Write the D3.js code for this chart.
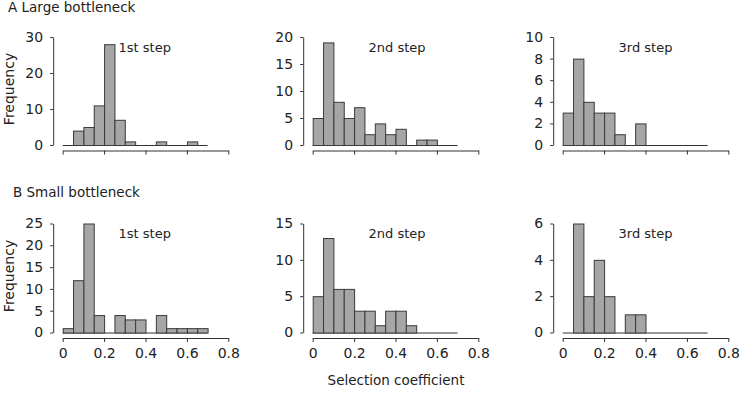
<!DOCTYPE html>
<html>
<head>
<meta charset="utf-8">
<script src="https://cdn.jsdelivr.net/npm/d3@7.9.0/dist/d3.min.js"></script>
<style>
  body { margin: 0; background: #fff; }
  svg text { font-family: "DejaVu Sans", Verdana, sans-serif; fill: #222; }
</style>
</head>
<body>
<svg id="chart" width="742" height="393"></svg>
<script>
// bin start values (bin width 0.05)
const binStarts = [0, 0.05, 0.1, 0.15, 0.2, 0.25, 0.3, 0.35, 0.4, 0.45, 0.5, 0.55, 0.6, 0.65];
const binWidth = 0.05;

const rowTitles = ['A Large bottleneck', 'B Small bottleneck'];
const stepLabels = ['1st step', '2nd step', '3rd step'];
const xTicks = [0, 0.2, 0.4, 0.6, 0.8];

// frequencies per bin
const largeStep1 = [0, 4, 5, 11, 28, 7, 1, 0, 0, 1, 0, 0, 1, 0];
const largeStep2 = [5, 19, 8, 5, 7, 2, 4, 2, 3, 0, 1, 1, 0, 0];
const largeStep3 = [3, 8, 4, 3, 3, 1, 0, 2, 0, 0, 0, 0, 0, 0];
const smallStep1 = [1, 12, 25, 4, 0, 4, 3, 3, 0, 4, 1, 1, 1, 1];
const smallStep2 = [5, 13, 6, 6, 3, 3, 1, 3, 3, 1, 0, 0, 0, 0];
const smallStep3 = [0, 6, 2, 4, 2, 0, 1, 1, 0, 0, 0, 0, 0, 0];

const largeYTicks = [[0, 10, 20, 30], [0, 5, 10, 15, 20], [0, 2, 4, 6, 8, 10]];
const smallYTicks = [[0, 5, 10, 15, 20, 25], [0, 5, 10, 15], [0, 2, 4, 6]];

const rows = [
  { series: [largeStep1, largeStep2, largeStep3], ticks: largeYTicks, top: 37, zero: 145, titleY: 12, showX: false },
  { series: [smallStep1, smallStep2, smallStep3], ticks: smallYTicks, top: 223.5, zero: 332.5, titleY: 197, showX: true }
];
const colX = [62.7, 312.7, 562.7];
const xSpan = 165.6;

const svg = d3.select('#chart');

rows.forEach((row, r) => {
  svg.append('text')
    .attr('x', r === 0 ? 8 : 13)
    .attr('y', row.titleY)
    .style('font-size', '13.5px')
    .text(rowTitles[r]);

  svg.append('text')
    .attr('transform', `translate(14,${(row.top + row.zero) / 2 - 2}) rotate(-90)`)
    .attr('text-anchor', 'middle')
    .style('font-size', '14px')
    .text('Frequency');

  row.series.forEach((values, c) => {
    const g = svg.append('g');
    const ticks = row.ticks[c];
    const x = d3.scaleLinear().domain([0, 0.8]).range([colX[c], colX[c] + xSpan]);
    const y = d3.scaleLinear().domain([0, d3.max(ticks)]).range([row.zero, row.top]);

    const data = binStarts.map((b, i) => ({ x0: b, x1: b + binWidth, n: values[i] }));

    // zero line under the bars
    g.append('line')
      .attr('x1', x(0)).attr('x2', x(0.7))
      .attr('y1', y(0) + 0.5).attr('y2', y(0) + 0.5)
      .attr('stroke', '#333');

    g.selectAll('rect')
      .data(data.filter(d => d.n > 0))
      .join('rect')
      .attr('x', d => x(d.x0) + 0.5)
      .attr('y', d => y(d.n) + 0.5)
      .attr('width', d => x(d.x1) - x(d.x0))
      .attr('height', d => y(0) - y(d.n))
      .attr('fill', '#a6a6a6')
      .attr('stroke', '#3a3a3a');

    // y axis
    const yAxis = g.append('g')
      .attr('transform', `translate(${x(0) - 9.5},0)`)
      .call(d3.axisLeft(y).tickValues(ticks).tickFormat(d3.format('d'))
        .tickSize(3).tickSizeOuter(0).tickPadding(7));
    yAxis.selectAll('path, line').attr('stroke', '#333');
    yAxis.selectAll('text').style('font-size', '14px').attr('fill', '#222');

    // x axis
    const xAxis = g.append('g')
      .attr('transform', `translate(0,${y(0) + 5.5})`)
      .call(d3.axisBottom(x).tickValues(xTicks).tickSize(4).tickSizeOuter(0).tickPadding(6)
        .tickFormat(row.showX ? d3.format('') : ''));
    xAxis.selectAll('path, line').attr('stroke', '#333');
    xAxis.selectAll('text').style('font-size', '14px').attr('fill', '#222');

    g.append('text')
      .attr('x', x(0.27))
      .attr('y', r === 0 ? 52 : 238)
      .style('font-size', '13px')
      .text(stepLabels[c]);
  });
});

svg.append('text')
  .attr('x', 396)
  .attr('y', 385)
  .attr('text-anchor', 'middle')
  .style('font-size', '13.5px')
  .text('Selection coefficient');
</script>
</body>
</html>
